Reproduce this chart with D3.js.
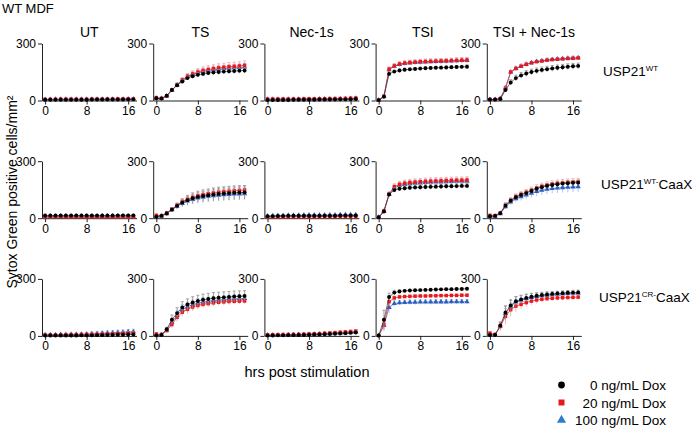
<!DOCTYPE html>
<html><head><meta charset="utf-8">
<script src="https://cdn.jsdelivr.net/npm/d3@7"></script>
<style>body{margin:0;background:#fff}svg{display:block}text{font-family:"Liberation Sans",Arial,sans-serif;fill:#000}</style>
</head><body>
<script>
// ---------- DATA ----------
const hours = [0,1,2,3,4,5,6,7,8,9,10,11,12,13,14,15,16,17];
const conditions = ["UT","TS","Nec-1s","TSI","TSI + Nec-1s"];
const genotypes = [["USP21","WT",""],["USP21","WT-","CaaX"],["USP21","CR-","CaaX"]];
const doses = ["0 ng/mL Dox","20 ng/mL Dox","100 ng/mL Dox"];
const yTicks = [0,300];
const xTicks = [0,8,16];

// USP21 WT
const wt_UT_d0   = [4,4,4,4,4,4,4,4,4,5,5,5,5,5,5,5,6,6];
const wt_UT_d20  = [6,6,7,7,7,7,7,7,7,7,7,7,8,8,8,8,8,9];
const wt_UT_d100 = [5,5,6,6,6,6,6,6,6,6,7,7,7,7,7,7,8,8];
const wt_TS_d0   = [12,10,25,55,80,100,118,128,135,140,145,148,150,152,154,155,157,158];
const wt_TS_d20  = [15,12,25,55,82,108,128,140,150,158,163,168,172,175,178,180,182,185];
const wt_TS_d100 = [12,10,24,54,82,106,125,137,146,153,158,162,165,168,170,172,174,176];
const wt_NEC_d0   = [3,3,3,3,3,4,4,4,4,4,5,5,5,5,6,6,7,8];
const wt_NEC_d20  = [8,8,8,8,8,8,8,9,9,9,9,9,10,10,10,11,12,13];
const wt_NEC_d100 = [6,6,6,6,6,7,7,7,7,7,8,8,8,8,9,9,10,11];
const wt_TSI_d0   = [2,20,140,152,158,162,164,166,168,170,171,172,173,174,175,176,177,178];
const wt_TSI_d20  = [2,22,165,182,192,197,200,202,204,205,206,207,208,209,210,211,212,213];
const wt_TSI_d100 = [2,21,162,180,190,195,198,200,202,203,204,205,206,207,208,209,210,211];
const wt_TSIN_d0   = [5,5,8,55,95,118,132,142,150,156,161,165,169,172,175,178,180,182];
const wt_TSIN_d20  = [5,5,10,65,150,168,180,190,198,204,208,212,215,217,219,221,222,224];
const wt_TSIN_d100 = [5,5,10,66,150,169,181,191,199,205,209,213,216,218,220,222,223,225];
// USP21 WT-CaaX
const wtc_UT_d0   = [14,14,14,14,14,14,14,14,14,14,14,14,14,14,15,15,15,15];
const wtc_UT_d20  = [8,8,8,8,7,7,7,7,7,7,7,7,7,7,7,7,7,7];
const wtc_UT_d100 = [10,10,10,10,10,10,10,10,10,10,10,11,11,11,11,11,11,11];
const wtc_TS_d0   = [8,12,25,45,65,82,95,105,112,117,121,125,128,130,132,134,135,136];
const wtc_TS_d20  = [15,14,28,48,68,88,100,110,118,124,129,133,137,140,142,144,146,148];
const wtc_TS_d100 = [10,12,24,44,63,78,90,99,106,111,115,118,121,123,125,127,128,129];
const wtc_NEC_d0   = [10,11,12,12,13,13,13,13,13,13,13,13,13,13,14,14,14,14];
const wtc_NEC_d20  = [6,7,7,7,7,8,8,8,8,8,8,8,8,9,9,9,9,9];
const wtc_NEC_d100 = [12,13,14,14,15,15,15,16,16,16,16,17,17,17,18,18,18,18];
const wtc_TSI_d0   = [5,35,125,148,155,158,160,162,163,164,165,166,167,168,168,169,170,170];
const wtc_TSI_d20  = [5,38,128,166,178,184,188,190,192,194,195,196,197,198,199,200,200,201];
const wtc_TSI_d100 = [5,36,126,160,172,178,182,184,186,188,189,190,191,192,193,194,194,195];
const wtc_TSIN_d0   = [10,12,26,66,92,110,122,132,143,155,163,170,175,179,182,184,186,187];
const wtc_TSIN_d20  = [15,14,28,70,95,114,126,136,148,160,168,175,180,184,187,189,191,193];
const wtc_TSIN_d100 = [8,10,24,60,85,102,113,122,132,140,147,152,156,159,161,163,164,165];
// USP21 CR-CaaX
const crc_UT_d0   = [2,2,2,2,2,2,2,3,3,3,4,4,5,5,6,6,7,8];
const crc_UT_d20  = [5,5,5,5,6,6,6,7,7,8,8,9,10,11,12,13,14,15];
const crc_UT_d100 = [6,6,6,7,7,8,8,9,10,11,12,14,15,16,18,19,21,22];
const crc_TS_d0   = [3,5,35,85,120,150,165,176,184,190,194,198,201,203,205,207,209,210];
const crc_TS_d20  = [10,8,28,60,98,125,140,152,160,166,170,174,177,179,181,182,183,184];
const crc_TS_d100 = [6,6,30,72,108,138,152,164,172,178,182,186,189,191,193,195,196,197];
const crc_NEC_d0   = [2,2,3,3,4,4,5,5,6,7,8,9,10,11,13,14,16,18];
const crc_NEC_d20  = [6,6,6,7,7,8,8,9,10,11,12,14,15,17,19,21,23,25];
const crc_NEC_d100 = [4,4,5,5,6,6,7,7,8,9,10,11,12,14,15,17,18,20];
const crc_TSI_d0   = [2,85,205,228,234,237,239,240,241,242,243,244,245,246,246,247,247,248];
const crc_TSI_d20  = [2,60,180,200,205,207,208,209,210,210,211,211,212,212,213,213,214,214];
const crc_TSI_d100 = [2,55,150,170,174,176,177,177,178,178,178,179,179,179,180,180,180,180];
const crc_TSIN_d0   = [5,5,55,123,160,182,192,200,206,211,215,218,221,223,225,227,228,229];
const crc_TSIN_d20  = [15,8,50,103,138,157,166,175,183,189,193,196,198,200,201,202,203,204];
const crc_TSIN_d100 = [5,5,52,118,156,178,188,196,202,207,211,214,217,219,221,223,224,225];

// error bars (SEM)
const wt_UT_e0   = [2,2,2,2,2,2,2,2,2,2,2,2,2,2,2,2,2,2];
const wt_UT_e20  = [2,2,2,2,2,2,2,2,2,2,2,2,2,2,2,2,2,2];
const wt_UT_e100 = [2,2,2,2,2,2,2,2,2,2,2,2,2,2,2,2,2,2];
const wt_TS_e0   = [3,3,4,6,8,10,10,11,12,12,12,13,13,13,13,13,14,14];
const wt_TS_e20  = [4,4,5,8,10,12,14,16,18,19,20,20,21,21,22,22,22,23];
const wt_TS_e100 = [4,4,5,8,10,12,14,15,16,17,17,18,18,18,19,19,19,19];
const wt_NEC_e0   = [2,2,2,2,2,2,2,2,2,2,2,2,2,2,3,3,3,3];
const wt_NEC_e20  = [3,3,3,3,3,3,3,3,3,3,3,3,3,3,3,3,3,3];
const wt_NEC_e100 = [2,2,2,2,2,2,2,2,2,2,2,2,2,2,3,3,3,3];
const wt_TSI_e0   = [1,5,10,8,8,8,8,8,8,8,8,8,8,8,8,8,8,9];
const wt_TSI_e20  = [1,6,12,12,12,12,12,12,13,13,13,13,13,13,13,14,14,14];
const wt_TSI_e100 = [1,6,12,12,12,12,12,12,13,13,13,13,13,13,13,14,14,14];
const wt_TSIN_e0   = [2,2,3,10,14,15,15,15,15,15,15,15,15,15,15,15,15,15];
const wt_TSIN_e20  = [2,2,3,10,8,8,8,8,7,7,7,7,7,7,7,7,7,7];
const wt_TSIN_e100 = [2,2,3,10,8,8,8,8,7,7,7,7,7,7,7,7,7,7];
const wtc_UT_e0   = [3,3,3,3,3,3,3,3,3,3,3,3,3,3,3,3,3,3];
const wtc_UT_e20  = [3,3,3,3,3,3,3,3,3,3,3,3,3,3,3,3,3,3];
const wtc_UT_e100 = [3,3,3,3,3,3,3,3,3,3,3,3,3,3,3,3,3,3];
const wtc_TS_e0   = [4,4,6,10,15,20,25,28,30,32,33,34,35,35,36,36,36,36];
const wtc_TS_e20  = [4,4,6,8,10,12,14,15,16,17,18,18,19,19,19,20,20,20];
const wtc_TS_e100 = [4,4,6,10,14,18,22,25,27,28,29,30,30,31,31,31,31,31];
const wtc_NEC_e0   = [3,3,3,3,3,3,3,3,3,3,3,3,3,3,3,3,3,3];
const wtc_NEC_e20  = [3,3,3,3,3,3,3,3,3,3,3,3,3,3,3,3,3,3];
const wtc_NEC_e100 = [3,3,3,3,3,3,3,3,3,3,3,3,3,3,3,3,3,3];
const wtc_TSI_e0   = [2,6,10,12,12,12,12,12,12,12,12,12,12,12,12,12,12,12];
const wtc_TSI_e20  = [2,6,10,15,16,17,17,17,17,17,17,17,17,17,17,17,17,17];
const wtc_TSI_e100 = [2,6,10,15,16,17,17,17,17,17,17,17,17,17,17,17,17,17];
const wtc_TSIN_e0   = [3,3,5,12,12,12,12,12,12,12,12,12,12,12,12,12,12,12];
const wtc_TSIN_e20  = [4,4,5,12,13,14,15,15,16,16,17,17,17,17,17,17,17,17];
const wtc_TSIN_e100 = [3,3,5,12,15,18,20,22,23,24,25,25,25,26,26,26,26,26];
const crc_UT_e0   = [3,3,3,3,3,3,3,3,3,3,3,3,3,3,3,3,3,3];
const crc_UT_e20  = [3,3,3,4,4,4,5,5,5,6,6,6,7,7,7,8,8,8];
const crc_UT_e100 = [4,4,5,5,6,6,7,8,8,9,10,10,11,11,12,12,13,13];
const crc_TS_e0   = [3,3,10,25,28,30,30,30,30,30,30,30,29,29,29,29,28,28];
const crc_TS_e20  = [4,4,10,20,22,22,22,20,19,18,17,17,16,16,16,15,15,15];
const crc_TS_e100 = [4,4,10,22,25,26,26,25,24,23,22,22,21,21,21,20,20,20];
const crc_NEC_e0   = [3,3,3,3,3,3,3,3,4,4,4,4,4,4,4,4,4,4];
const crc_NEC_e20  = [3,3,3,3,4,4,4,4,5,5,5,5,6,6,6,6,7,7];
const crc_NEC_e100 = [3,3,3,3,4,4,4,4,5,5,5,5,6,6,6,6,7,7];
const crc_TSI_e0   = [1,50,20,12,8,6,5,5,5,5,5,5,5,5,5,5,5,5];
const crc_TSI_e20  = [1,25,25,10,8,7,7,7,7,7,7,7,7,7,7,7,7,7];
const crc_TSI_e100 = [1,30,30,15,12,12,12,12,12,12,12,12,12,12,12,12,12,12];
const crc_TSIN_e0   = [2,2,15,35,30,25,22,20,18,16,15,14,13,12,12,12,12,12];
const crc_TSIN_e20  = [3,3,25,40,35,30,25,22,20,18,16,15,14,13,13,12,12,12];
const crc_TSIN_e100 = [2,2,20,38,32,28,24,22,20,18,16,15,14,13,13,12,12,12];

// ---------- TABLE ----------
const panelData = [
  [[wt_UT_d0,wt_UT_d20,wt_UT_d100],[wt_TS_d0,wt_TS_d20,wt_TS_d100],[wt_NEC_d0,wt_NEC_d20,wt_NEC_d100],[wt_TSI_d0,wt_TSI_d20,wt_TSI_d100],[wt_TSIN_d0,wt_TSIN_d20,wt_TSIN_d100]],
  [[wtc_UT_d0,wtc_UT_d20,wtc_UT_d100],[wtc_TS_d0,wtc_TS_d20,wtc_TS_d100],[wtc_NEC_d0,wtc_NEC_d20,wtc_NEC_d100],[wtc_TSI_d0,wtc_TSI_d20,wtc_TSI_d100],[wtc_TSIN_d0,wtc_TSIN_d20,wtc_TSIN_d100]],
  [[crc_UT_d0,crc_UT_d20,crc_UT_d100],[crc_TS_d0,crc_TS_d20,crc_TS_d100],[crc_NEC_d0,crc_NEC_d20,crc_NEC_d100],[crc_TSI_d0,crc_TSI_d20,crc_TSI_d100],[crc_TSIN_d0,crc_TSIN_d20,crc_TSIN_d100]]
];
const panelErr = [
  [[wt_UT_e0,wt_UT_e20,wt_UT_e100],[wt_TS_e0,wt_TS_e20,wt_TS_e100],[wt_NEC_e0,wt_NEC_e20,wt_NEC_e100],[wt_TSI_e0,wt_TSI_e20,wt_TSI_e100],[wt_TSIN_e0,wt_TSIN_e20,wt_TSIN_e100]],
  [[wtc_UT_e0,wtc_UT_e20,wtc_UT_e100],[wtc_TS_e0,wtc_TS_e20,wtc_TS_e100],[wtc_NEC_e0,wtc_NEC_e20,wtc_NEC_e100],[wtc_TSI_e0,wtc_TSI_e20,wtc_TSI_e100],[wtc_TSIN_e0,wtc_TSIN_e20,wtc_TSIN_e100]],
  [[crc_UT_e0,crc_UT_e20,crc_UT_e100],[crc_TS_e0,crc_TS_e20,crc_TS_e100],[crc_NEC_e0,crc_NEC_e20,crc_NEC_e100],[crc_TSI_e0,crc_TSI_e20,crc_TSI_e100],[crc_TSIN_e0,crc_TSIN_e20,crc_TSIN_e100]]
];

// ---------- DRAW ----------
const W = 695, H = 429;
const svg = d3.select("body").append("svg").attr("width", W).attr("height", H);

const colLeft = d3.range(5).map(i => 42 + i * 111.2);
const rowTop = d3.range(3).map(j => 43.5 + j * 117.7);
const pw = 94.5, ph = 57;

const markColor = ["#000000", "#e8191c", "#2b5fbf"];
const errColor = ["#8c8c8c", "#f3a2a2", "#a3b8e3"];
const lineColor = ["#333333", "#e8191c", "#2b5fbf"];
const symTypes = [d3.symbolCircle, d3.symbolSquare, d3.symbolTriangle];
const symSizes = [12, 12, 12];
const drawOrder = [2, 1, 0];

svg.append("text").attr("x", 2).attr("y", 13).attr("font-size", 13).text("WT MDF");

for (let r = 0; r < 3; r++) {
  for (let c = 0; c < 5; c++) {
    const x = d3.scaleLinear().domain([-0.6, 17.6]).range([colLeft[c], colLeft[c] + pw]);
    const y = d3.scaleLinear().domain([0, 300]).range([rowTop[r] + ph, rowTop[r]]);
    const g = svg.append("g");

    // y axis
    const ya = g.append("g").attr("transform", `translate(${colLeft[c]},0)`);
    ya.call(d3.axisLeft(y).tickValues(d3.range(0, 301, 30)).tickSize(2).tickSizeOuter(0).tickFormat(""));
    ya.call(d3.axisLeft(y).tickValues(yTicks).tickSize(4).tickSizeOuter(0).tickPadding(2));
    // x axis
    const xa = g.append("g").attr("transform", `translate(0,${rowTop[r] + ph})`);
    xa.call(d3.axisBottom(x).tickValues(hours).tickSize(2).tickSizeOuter(0).tickFormat(""));
    xa.call(d3.axisBottom(x).tickValues(xTicks).tickSize(4).tickSizeOuter(0).tickPadding(2));
    [ya, xa].forEach(a => {
      a.selectAll("path.domain").attr("stroke", "#222").attr("stroke-width", 1);
      a.selectAll("line").attr("stroke", "#222").attr("stroke-width", 1);
      a.selectAll("text").attr("font-size", 12).attr("font-family", '"Liberation Sans",Arial,sans-serif').attr("fill", "#000");
    });

    if (r === 0) {
      svg.append("text").attr("x", x(8.5)).attr("y", 37).attr("text-anchor", "middle")
        .attr("font-size", 14).text(conditions[c]);
    }

    for (const s of drawOrder) {
      const vals = panelData[r][c][s], errs = panelErr[r][c][s];
      const pts = hours.map((h, i) => ({ h, v: vals[i], e: errs[i] }));
      const eg = g.append("g").attr("stroke", errColor[s]).attr("stroke-width", 0.8);
      pts.forEach(p => {
        const px = x(p.h), y1 = y(p.v + p.e), y2 = y(Math.max(0, p.v - p.e));
        eg.append("line").attr("x1", px).attr("x2", px).attr("y1", y1).attr("y2", y2);
        eg.append("line").attr("x1", px - 1.5).attr("x2", px + 1.5).attr("y1", y1).attr("y2", y1);
      });
      g.append("path").datum(pts).attr("fill", "none").attr("stroke", lineColor[s]).attr("stroke-width", 0.7)
        .attr("d", d3.line().x(p => x(p.h)).y(p => y(p.v)));
      g.append("g").selectAll("path").data(pts).join("path")
        .attr("transform", p => `translate(${x(p.h)},${y(p.v)})`)
        .attr("d", d3.symbol().type(symTypes[s]).size(symSizes[s]))
        .attr("fill", markColor[s]);
    }
  }
  // row label
  const lx = [603, 601, 599][r], ly = [76, 189, 302][r];
  const t = svg.append("text").attr("x", lx).attr("y", ly).attr("font-size", 13.5);
  t.append("tspan").text(genotypes[r][0]);
  t.append("tspan").attr("font-size", 8).attr("dy", -5).text(genotypes[r][1]);
  if (genotypes[r][2]) t.append("tspan").attr("dy", 5).text(genotypes[r][2]);
}

// axis titles
svg.append("text").attr("transform", "translate(17,192) rotate(-90)").attr("text-anchor", "middle")
  .attr("font-size", 14).text("Sytox Green positive cells/mm²");
svg.append("text").attr("x", 307).attr("y", 377).attr("text-anchor", "middle")
  .attr("font-size", 14.5).text("hrs post stimulation");

// legend
const leg = svg.append("g");
doses.forEach((d, i) => {
  const ly = 385 + i * 17.5;
  leg.append("path").attr("transform", `translate(561.5,${ly})`)
    .attr("d", d3.symbol().type(symTypes[i]).size(36)).attr("fill", i === 2 ? "#2e7bcf" : markColor[i]);
  leg.append("text").attr("x", 666).attr("y", ly + 5).attr("text-anchor", "end")
    .attr("font-size", 13.5).text(d);
});
</script>
</body></html>
